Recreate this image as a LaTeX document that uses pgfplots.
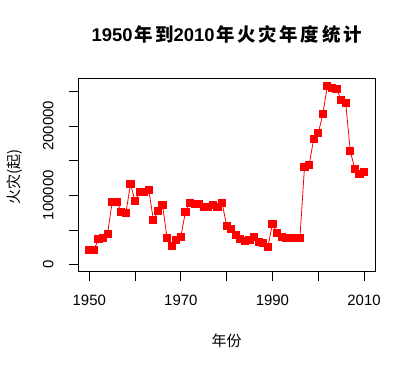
\documentclass[border=0pt]{standalone}
\usepackage{pgfplots}
\pgfplotsset{compat=1.18}
\usepackage{pgfplotstable}
\usepackage{fontspec}
\setmainfont{Liberation Sans}
\newfontfamily\cjk{Noto Sans CJK SC}
\newfontfamily\cjkt[LetterSpace=15]{Noto Sans CJK SC}
\definecolor{rred}{RGB}{255,0,0}
\pgfplotstableread{
year fires
1950 21000
1951 21000
1952 37000
1953 38000
1954 44700
1955 90300
1956 90300
1957 76400
1958 75000
1959 115800
1960 91800
1961 104300
1962 105200
1963 107200
1964 64400
1965 76900
1966 85600
1967 38000
1968 26500
1969 36000
1970 40300
1971 76400
1972 89300
1973 87000
1974 88000
1975 83200
1976 83200
1977 86000
1978 83200
1979 89300
1980 55800
1981 51400
1982 42300
1983 37500
1984 34600
1985 35600
1986 39500
1987 33100
1988 30800
1989 25500
1990 59100
1991 45700
1992 39500
1993 38500
1994 38500
1995 38500
1996 38500
1997 140800
1998 143200
1999 180700
2000 189300
2001 216700
2002 257900
2003 255000
2004 252700
2005 237300
2006 233000
2007 163800
2008 137500
2009 131100
2010 133600
}\firedata
\begin{document}
\begin{tikzpicture}
\useasboundingbox (0,0) rectangle (416bp,-370bp);
\begin{axis}[
  at={(78.3bp,-271.7bp)}, anchor=south west,
  scale only axis, width=296.7bp, height=193.4bp,
  xmin=1947.6, xmax=2012.4,
  ymin=-10100, ymax=268600,
  scaled y ticks=false,
  xtick={1950,1960,...,2010},
  xticklabels={1950,,1970,,1990,,2010},
  ytick={0,50000,...,250000},
  yticklabels={0,,100000,,200000,},
  tick align=outside,
  xtick pos=bottom, ytick pos=left,
  major tick length=9bp,
  axis line style={line width=0.8bp},
  every tick/.style={black, line width=0.8bp},
  ticklabel style={font=\fontsize{15}{18}\selectfont, inner sep=0pt},
  xticklabel style={anchor=north, yshift=-14.6bp},
  yticklabel style={xshift=-15.6bp, rotate=90, anchor=south},
  title={\bfseries 1950\hspace{1.5bp}{\cjkt 年到}2010\hspace{1.5bp}{\cjkt 年火灾年度统计}},
  title style={font=\fontsize{18.5}{22}\selectfont, at={(axis description cs:0.5,1.1954)}, anchor=center, inner sep=0pt},
  xlabel={\cjk 年份},
  xlabel style={font=\fontsize{15}{18}\selectfont, at={(axis description cs:0.5,-0.3583)}, anchor=center, inner sep=0pt},
  ylabel={\cjk 火灾(起)},
  ylabel style={font=\fontsize{15}{18}\selectfont, at={(axis description cs:-0.2133,0.491)}, anchor=center, inner sep=0pt, rotate=0},
  clip=false,
]
\addplot[color=rred, line width=0.8bp, mark=square*, mark size=3.6bp, mark options={fill=rred, draw=rred, line width=0pt}] table[x=year, y=fires] {\firedata};
\end{axis}
\end{tikzpicture}
\end{document}
